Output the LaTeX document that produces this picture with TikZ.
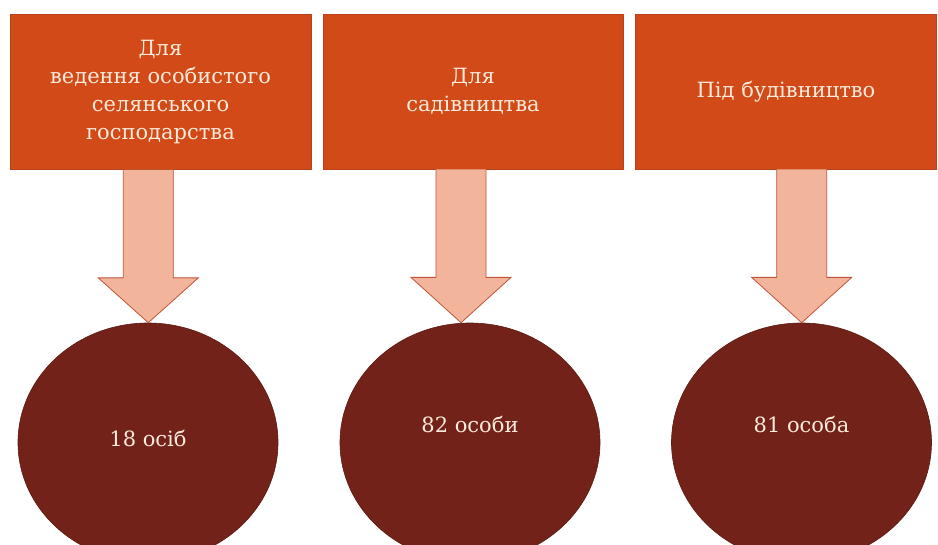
\documentclass[tikz,border=0pt]{standalone}
\usepackage{fontspec}
\setmainfont{DejaVu Serif}
\usetikzlibrary{shapes.geometric,calc}
\definecolor{boxfill}{HTML}{D14A17}
\definecolor{boxline}{HTML}{B8431A}
\definecolor{arrfill}{HTML}{F3B49C}
\definecolor{arrline}{HTML}{C0553A}
\definecolor{ellfill}{HTML}{722218}
\definecolor{txt}{HTML}{FBEBDD}
\tikzset{
  lbl/.style={text=txt, font=\fontsize{21}{28}\selectfont},
  topbox/.style={draw=boxline, line width=0.8pt, fill=boxfill, minimum width=#1, minimum height=155pt, inner sep=0pt, align=center, lbl},
  bottomell/.style={ellipse, draw=ellfill!80!black, line width=0.6pt, fill=ellfill, minimum width=260pt, minimum height=239pt, inner sep=0pt},
  blockarrow/.style={draw=arrline, line width=0.8pt, fill=arrfill, line join=miter}
}
\begin{document}
\begin{tikzpicture}[x=1pt,y=-1pt]
\useasboundingbox (0,0) rectangle (938,545);
\clip (0,0) rectangle (938,545);
% boxes
\node[topbox=301pt] (b1) at (160.5,92) {Для\\ведення особистого\\селянського\\господарства};
\node[topbox=300pt] (b2) at (473,91.5) {Для\\садівництва};
\node[topbox=301pt] (b3) at (786,91.5) {Під будівництво};
% ellipses
\node[bottomell] (e1) at (148,442.5) {};
\node[bottomell] (e2) at (470,442.5) {};
\node[bottomell] (e3) at (801.5,442.5) {};
\node[lbl] (t1) at (148,438) {18 осіб};
\node[lbl] (t2) at (470,424) {82 особи};
\node[lbl] (t3) at (801.5,424) {81 особа};
% arrows
\foreach \b/\e/\x in {b1/e1/148.3, b2/e2/461, b3/e3/801.7}{
  \path (\b.south -| \x,0) coordinate (s) (\e.north -| \x,0) coordinate (t);
  \draw[blockarrow] ($(s)+(-25,0)$) -- ($(s)+(-25,108)$) -- ($(s)+(-50,108)$) -- (t) -- ($(s)+(50,108)$) -- ($(s)+(25,108)$) -- ($(s)+(25,0)$);
}
\end{tikzpicture}
\end{document}
